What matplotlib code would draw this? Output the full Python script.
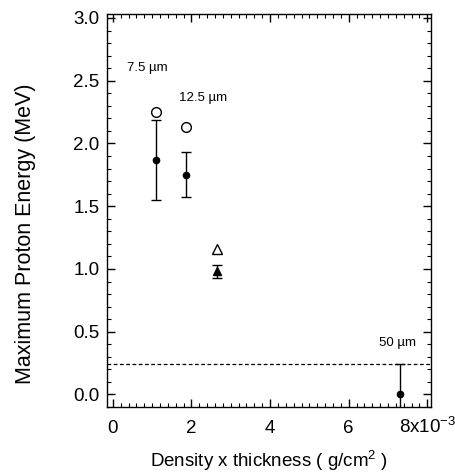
import matplotlib
matplotlib.use('Agg')
import matplotlib.pyplot as plt
from matplotlib.ticker import MultipleLocator, FuncFormatter, FixedLocator

plt.rcParams['font.family'] = ['Liberation Sans', 'DejaVu Sans']
plt.rcParams['mathtext.fontset'] = 'custom'
plt.rcParams['mathtext.rm'] = 'Liberation Sans'
plt.rcParams['mathtext.it'] = 'Liberation Sans'

# density x thickness in units of 1e-3 g/cm^2
x_meas = [1.10, 1.85, 7.30]
e_meas = [1.87, 1.75, 0.00]
err_meas = [0.32, 0.18, 0.24]

x_tri = [2.66]
e_tri = [0.98]
err_tri = [0.05]

x_open = [1.10, 1.85]
e_open = [2.25, 2.13]
x_open_tri = [2.66]
e_open_tri = [1.16]

threshold = 0.245

labels = ['7.5 µm', '12.5 µm', '50 µm']
label_x = [0.36, 1.68, 6.76]
label_y = [2.60, 2.36, 0.41]

xticks = [0, 2, 4, 6, 8]
xticklabels = ['0', '2', '4', '6', '8x10$^{-3}$']

fig = plt.figure(figsize=(4.55, 4.73), dpi=100)
ax = fig.add_axes([0.235, 0.1395, 0.712, 0.8305])

ax.errorbar(x_meas, e_meas, yerr=err_meas, fmt='o', color='black', ms=4.5,
            capsize=3.5, elinewidth=1, capthick=1)
ax.errorbar(x_tri, e_tri, yerr=err_tri, fmt='^', color='black', ms=6,
            capsize=3.5, elinewidth=1, capthick=1)
ax.plot(x_open, e_open, 'o', mfc='white', mec='black', ms=7, mew=1)
ax.plot(x_open_tri, e_open_tri, '^', mfc='white', mec='black', ms=7, mew=1)

ax.axhline(threshold, color='black', lw=0.9, ls=(0, (3, 2)))

for t, lx, ly in zip(labels, label_x, label_y):
    ax.text(lx, ly, t, fontsize=9.5, ha='left', va='center')

ax.set_xlim(-0.15, 8.09)
ax.set_ylim(-0.10, 3.03)

ax.xaxis.set_major_locator(FixedLocator(xticks))
ax.set_xticklabels(xticklabels)
ax.xaxis.set_minor_locator(MultipleLocator(0.2))
ax.yaxis.set_major_locator(MultipleLocator(0.5))
ax.yaxis.set_minor_locator(MultipleLocator(0.1))
ax.yaxis.set_major_formatter(FuncFormatter(lambda v, p: '%.1f' % v))

ax.tick_params(which='both', direction='in', top=True, right=True, labelsize=13.5)
ax.tick_params(which='major', length=6, width=1)
ax.tick_params(which='minor', length=3, width=0.8)
ax.tick_params(axis='y', which='major', pad=5.5)
ax.tick_params(axis='x', which='major', pad=18.5)
for tick in ax.xaxis.get_major_ticks():
    tick.label1.set_verticalalignment('baseline')
for s in ax.spines.values():
    s.set_linewidth(1)

ax.set_xlabel('Density x thickness ( g/cm$^2$ )', fontsize=13.5, labelpad=9)
ax.set_ylabel('Maximum Proton Energy (MeV)', fontsize=15.5)
ax.yaxis.set_label_coords(-0.219, 0.44)

fig.savefig('out.png', dpi=100)
